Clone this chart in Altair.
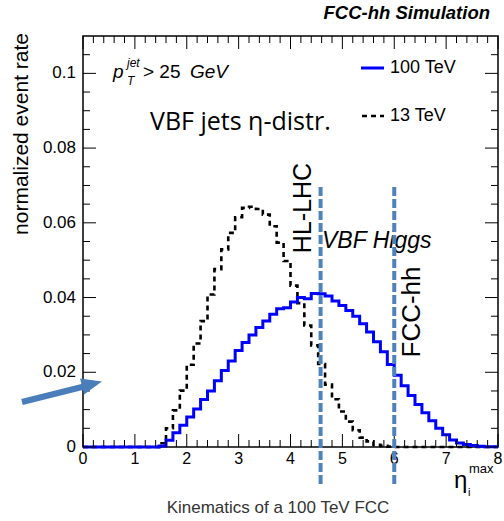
import altair as alt
import pandas as pd

# ---------------- data ----------------
N_BINS = 60
X_MAX = 8.0
bin_edges = [round(i * X_MAX / N_BINS, 5) for i in range(N_BINS + 1)]

rate_100tev = [
    0, 0, 0, 0, 0, 0, 0, 0, 0, 0,
    0, 0.0003, 0.0018, 0.0038, 0.0058, 0.0080, 0.0102, 0.0127, 0.0150, 0.0177,
    0.0205, 0.0230, 0.0258, 0.0280, 0.0300, 0.0320, 0.0337, 0.0355, 0.0370, 0.0373,
    0.0388, 0.0400, 0.0397, 0.0411, 0.0410, 0.0404, 0.0391, 0.0379, 0.0365, 0.0350,
    0.0330, 0.0308, 0.0282, 0.0255, 0.0221, 0.0192, 0.0164, 0.0138, 0.0114, 0.0092,
    0.0070, 0.0050, 0.0033, 0.0019, 0.0011, 0.0007, 0.0004, 0.0002, 0.0001, 0.0001,
]
rate_13tev = [
    0, 0, 0, 0, 0, 0, 0, 0, 0, 0,
    0, 0.0010, 0.0050, 0.0098, 0.0151, 0.0220, 0.0277, 0.0337, 0.0408, 0.0476,
    0.0529, 0.0573, 0.0615, 0.0640, 0.0643, 0.0637, 0.0622, 0.0591, 0.0547, 0.0498,
    0.0432, 0.0385, 0.0325, 0.0272, 0.0222, 0.0167, 0.0128, 0.0095, 0.0068, 0.0045,
    0.0025, 0.0015, 0.0006, 0.0003, 0.0001, 0, 0, 0, 0, 0,
    0, 0, 0, 0, 0, 0, 0, 0, 0, 0,
]
x_major_ticks = [0, 1, 2, 3, 4, 5, 6, 7, 8]
x_tick_labels = ["0", "1", "2", "3", "4", "5", "6", "7", "8"]
x_minor_ticks = [round(0.2 * k, 1) for k in range(41) if k % 5]
y_major_ticks = [0, 0.02, 0.04, 0.06, 0.08, 0.1]
y_tick_labels = ["0", "0.02", "0.04", "0.06", "0.08", "0.1"]
y_minor_ticks = [round(0.005 * k, 3) for k in range(22) if k % 4]
marker_eta = [4.58, 6.0]

# ---------------- layout ----------------
W, H = 415, 411
FONT = "Liberation Sans"
SX = alt.Scale(domain=[0, X_MAX], nice=False, zero=False)
SY = alt.Scale(domain=[0, 0.11], nice=False, zero=True)
one = pd.DataFrame({"k": [0]})


def hist_df(vals):
    return pd.DataFrame({"eta": bin_edges, "rate": list(vals) + [vals[-1]]})


black_hist = alt.Chart(hist_df(rate_13tev)).mark_line(
    interpolate="step-after", color="black", strokeWidth=2.6, strokeDash=[5, 4]
).encode(
    x=alt.X("eta:Q", scale=SX, axis=None),
    y=alt.Y("rate:Q", scale=SY, axis=None),
)
blue_hist = alt.Chart(hist_df(rate_100tev)).mark_line(
    interpolate="step-after", color="#0000ff", strokeWidth=3
).encode(
    x=alt.X("eta:Q", scale=SX, axis=None),
    y=alt.Y("rate:Q", scale=SY, axis=None),
)


def xticks(vals, length, top):
    y0, y1 = (0, length) if top else (H, H - length)
    return alt.Chart(pd.DataFrame({"t": vals})).mark_rule(color="black", strokeWidth=1).encode(
        x=alt.X("t:Q", scale=SX, axis=None), y=alt.value(y0), y2=alt.value(y1))


def yticks(vals, length, right):
    x0, x1 = (W, W - length) if right else (0, length)
    return alt.Chart(pd.DataFrame({"t": vals})).mark_rule(color="black", strokeWidth=1).encode(
        y=alt.Y("t:Q", scale=SY, axis=None), x=alt.value(x0), x2=alt.value(x1))


ticks = [
    xticks(x_major_ticks, 13, False), xticks(x_minor_ticks, 7, False),
    xticks(x_major_ticks, 13, True), xticks(x_minor_ticks, 7, True),
    yticks(y_major_ticks, 13, False), yticks(y_minor_ticks, 7, False),
    yticks(y_major_ticks, 13, True), yticks(y_minor_ticks, 7, True),
]

x_labels = alt.Chart(pd.DataFrame({"t": x_major_ticks, "s": x_tick_labels})).mark_text(
    fontSize=16, font=FONT, color="black", baseline="middle", align="center", clip=False
).encode(x=alt.X("t:Q", scale=SX, axis=None), y=alt.value(H + 12), text="s:N")

y_labels = alt.Chart(pd.DataFrame({"t": y_major_ticks, "s": y_tick_labels})).mark_text(
    fontSize=17, font=FONT, color="black", baseline="middle", align="right", clip=False
).encode(y=alt.Y("t:Q", scale=SY, axis=None), x=alt.value(-7), text="s:N")

markers = alt.Chart(pd.DataFrame({"m": marker_eta})).mark_rule(
    color="#4f81bd", strokeWidth=4, strokeDash=[9, 3], clip=False
).encode(x=alt.X("m:Q", scale=SX, axis=None), y=alt.value(151), y2=alt.value(450))


def label(text, x, y, size, font=FONT, **kw):
    return alt.Chart(one).mark_text(text=text, fontSize=size, font=font, clip=False, **kw).encode(
        x=alt.value(x), y=alt.value(y))


texts = [
    label("HL-LHC", 220, 172, 25, angle=270, align="center", baseline="middle"),
    label("FCC-hh", 329, 276, 26, angle=270, align="center", baseline="middle"),
    label("VBF Higgs", 239, 212, 23, fontStyle="italic", align="left", baseline="alphabetic"),
    label("VBF jets η-distr.", 67, 94, 25, font="Open Sans", align="left", baseline="alphabetic"),
    label("p", 30, 42, 19, fontStyle="italic", align="left", baseline="alphabetic"),
    label("jet", 44, 31, 12, fontStyle="italic", align="left", baseline="alphabetic"),
    label("T", 44, 49, 12, fontStyle="italic", align="left", baseline="alphabetic"),
    label("> 25", 60, 42, 19, align="left", baseline="alphabetic"),
    label("GeV", 107, 42, 19, fontStyle="italic", align="left", baseline="alphabetic"),
    label("100 TeV", 307, 32, 18, align="left", baseline="middle"),
    label("13 TeV", 307, 80, 18, align="left", baseline="middle"),
    label("FCC-hh Simulation", 407, -17, 18.5, fontStyle="italic", fontWeight="bold",
          align="right", baseline="alphabetic"),
    label("Kinematics of a 100 TeV FCC", 195, 477, 17, align="center", baseline="alphabetic",
          color="#333333"),
    label("normalized event rate", -61, -3, 21, angle=270, align="right", baseline="middle"),
    label("η", 371, 452, 24, align="left", baseline="alphabetic"),
    label("max", 386, 437, 13, align="left", baseline="alphabetic"),
    label("i", 385, 460, 11, align="left", baseline="alphabetic"),
]

legend_lines = [
    alt.Chart(one).mark_rule(color="#0000ff", strokeWidth=3).encode(
        x=alt.value(278), x2=alt.value(301), y=alt.value(32)),
    alt.Chart(one).mark_rule(color="black", strokeWidth=2.6, strokeDash=[5, 4]).encode(
        x=alt.value(279), x2=alt.value(301), y=alt.value(80)),
]

arrow = [
    alt.Chart(one).mark_rule(color="#4a7ebb", strokeWidth=6, clip=False).encode(
        x=alt.value(-61), y=alt.value(366), x2=alt.value(3), y2=alt.value(350)),
    alt.Chart(one).mark_point(shape="M -1 -0.8 L 1 0 L -1 0.8 Z", size=420, filled=True,
                              color="#4a7ebb", opacity=1, angle=346, clip=False).encode(
        x=alt.value(9), y=alt.value(348)),
]

chart = alt.layer(
    black_hist, blue_hist, *ticks, x_labels, y_labels, *legend_lines, *texts, markers, *arrow
).properties(
    width=W, height=H, autosize="none",
    padding={"left": 83, "top": 36, "right": 6, "bottom": 74},
).configure_view(stroke="black", strokeWidth=1.5)

chart.save("out.html", embed_options={"renderer": "svg", "actions": False})
